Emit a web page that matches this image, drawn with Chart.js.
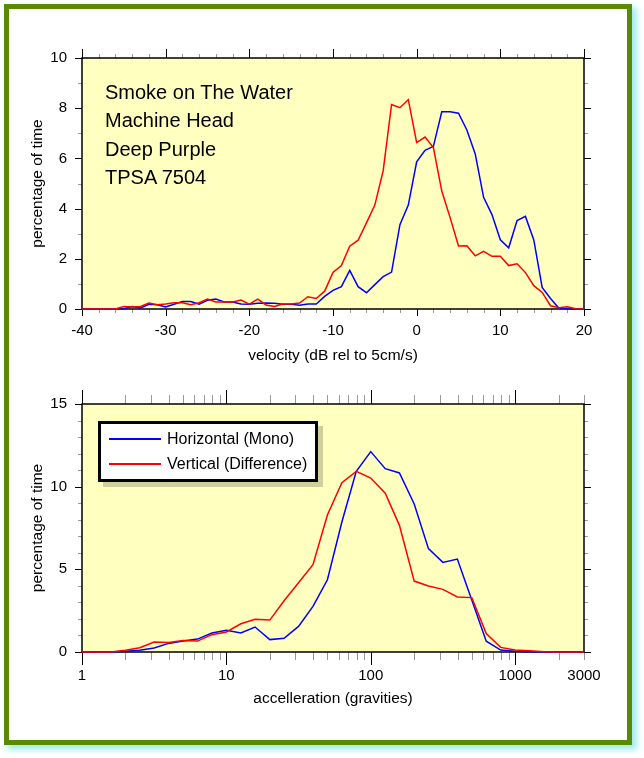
<!DOCTYPE html>
<html>
<head>
<meta charset="utf-8">
<script src="https://cdn.jsdelivr.net/npm/chart.js@4.4.1/dist/chart.umd.min.js"></script>
<style>
  html,body{margin:0;padding:0;background:#fff;}
  body{width:644px;height:758px;position:relative;overflow:hidden;font-family:'Liberation Sans',Arial,Helvetica,sans-serif;}
  #frame{position:absolute;left:4px;top:4px;width:628px;height:741px;box-sizing:border-box;border:5px solid #5a8a00;background:#fff;box-shadow:4px 4px 6px 1px #a6ecec;}
  canvas{position:absolute;left:0;}
  #c1{top:0;}
  #c2{top:380px;}
  #note{position:absolute;left:105px;top:78px;font-size:20px;line-height:28.3px;color:#000;white-space:nowrap;}
  #legend{position:absolute;left:98px;top:421px;width:220px;height:61px;box-sizing:border-box;border:3px solid #000;background:#fff;box-shadow:5px 5px 0 #cfcf9c;}
  .li{position:absolute;left:0;height:20px;width:100%;}
  .li .sw{position:absolute;left:8px;width:52px;height:2px;top:9px;}
  .li .tx{position:absolute;left:66px;top:0;font-size:16px;line-height:20px;white-space:nowrap;color:#000;}
</style>
</head>
<body>
<div id="frame"></div>
<canvas id="c1" width="644" height="372"></canvas>
<canvas id="c2" width="644" height="378"></canvas>
<div id="note"></div>
<div id="legend"></div>
<script>
// ---------- data ----------
const seriesNames = ['Horizontal (Mono)', 'Vertical (Difference)'];
const seriesColors = ['#0000ff', '#ff0000'];
const noteLines = ['Smoke on The Water', 'Machine Head', 'Deep Purple', 'TPSA 7504'];

const velocityBins = [-40,-39,-38,-37,-36,-35,-34,-33,-32,-31,-30,-29,-28,-27,-26,-25,-24,-23,-22,-21,
  -20,-19,-18,-17,-16,-15,-14,-13,-12,-11,-10,-9,-8,-7,-6,-5,-4,-3,-2,-1,
  0,1,2,3,4,5,6,7,8,9,10,11,12,13,14,15,16,17,18,19,20];
const velocityHorizontal = [0,0,0,0,0,0.01,0.1,0.04,0.19,0.17,0.08,0.19,0.3,0.3,0.19,0.35,0.4,0.28,0.28,0.2,
  0.19,0.23,0.24,0.23,0.19,0.19,0.15,0.2,0.2,0.5,0.74,0.89,1.54,0.89,0.65,0.97,1.29,1.47,3.36,4.14,
  5.86,6.32,6.48,7.86,7.86,7.8,7.13,6.18,4.45,3.76,2.76,2.44,3.52,3.69,2.75,0.86,0.42,0.03,0.01,0,0];
const velocityVertical = [0,0,0,0,0,0.1,0.08,0.1,0.24,0.17,0.2,0.25,0.25,0.17,0.25,0.4,0.28,0.28,0.28,0.36,
  0.19,0.39,0.16,0.1,0.2,0.2,0.24,0.49,0.42,0.71,1.46,1.73,2.5,2.74,3.43,4.14,5.51,8.15,8.02,8.34,
  6.63,6.85,6.43,4.7,3.64,2.51,2.52,2.12,2.3,2.1,2.1,1.73,1.8,1.45,0.93,0.66,0.13,0.05,0.09,0.01,0];

const accelBins = [1,1.26,1.58,2,2.51,3.16,3.98,5.01,6.31,7.94,10,12.6,15.8,20,25.1,31.6,39.8,50.1,63.1,79.4,
  100,126,158,200,251,316,398,501,631,794,1000,1259,1585,1995,2512,3162];
const accelHorizontal = [0,0,0,0.04,0.1,0.24,0.52,0.67,0.78,1.15,1.31,1.15,1.51,0.75,0.83,1.55,2.76,4.37,7.86,10.93,
  12.12,11.09,10.83,8.95,6.25,5.42,5.62,3.15,0.65,0.12,0.04,0.02,0,0,0,0];
const accelVertical = [0,0,0,0.1,0.26,0.6,0.58,0.69,0.66,1.05,1.21,1.71,1.98,1.93,3.1,4.19,5.28,8.29,10.24,10.93,
  10.52,9.6,7.66,4.29,3.99,3.79,3.33,3.29,1.11,0.28,0.12,0.08,0.02,0,0,0];

const velocityTickLabels = [-40,-30,-20,-10,0,10,20];
const pctTickLabels1 = [0,2,4,6,8,10];
const accelTickLabels = [1,10,100,1000,3000];
const pctTickLabels2 = [0,5,10,15];

const xTitle1 = 'velocity (dB rel to 5cm/s)';
const xTitle2 = 'accelleration (gravities)';
const yTitle = 'percentage of time';

// ---------- html text ----------
document.getElementById('note').innerHTML = noteLines.map(s => '<div>' + s + '</div>').join('');
document.getElementById('legend').innerHTML = seriesNames.map((n, i) =>
  '<div class="li" style="top:' + (i === 0 ? 5 : 30) + 'px"><div class="sw" style="background:' + seriesColors[i] + '"></div><div class="tx">' + n + '</div></div>').join('');

// ---------- chart helpers ----------
Chart.defaults.font.family = "'Liberation Sans', Arial, Helvetica, sans-serif";
Chart.defaults.font.size = 15;
Chart.defaults.color = '#000';

const frameTicks = {
  id: 'frameTicks',
  beforeDraw(chart) {
    const a = chart.chartArea, c = chart.ctx;
    c.save();
    c.fillStyle = '#ffffc0';
    c.fillRect(a.left, a.top, a.right - a.left, a.bottom - a.top);
    c.restore();
  },
  beforeDatasetsDraw(chart) {
    const spec = chart.options.plugins.frameTicks;
    if (!spec) return;
    const c = chart.ctx, a = chart.chartArea, xs = chart.scales.x, ys = chart.scales.y;
    const seg = (x1, y1, x2, y2) => { c.beginPath(); c.moveTo(x1, y1); c.lineTo(x2, y2); c.stroke(); };
    c.save();
    c.lineWidth = 1;
    spec.xTicks.forEach(t => {
      const p = Math.round(xs.getPixelForValue(t.v)) + 0.5;
      c.strokeStyle = t.major ? '#000' : '#999';
      const lt = t.major ? spec.xMajorTop : spec.xMinorTop;
      const lb = t.major ? spec.xMajorBot : spec.xMinorBot;
      seg(p, a.top, p, a.top - lt);
      seg(p, a.bottom, p, a.bottom + lb);
    });
    spec.yTicks.forEach(t => {
      const p = Math.round(ys.getPixelForValue(t.v)) + 0.5;
      c.strokeStyle = t.major ? '#000' : '#999';
      const l = t.major ? spec.yMajor : spec.yMinor;
      seg(a.left, p, a.left - l, p);
      seg(a.right, p, a.right + l, p);
    });
    c.strokeStyle = '#000';
    c.lineWidth = 1.5;
    c.strokeRect(a.left, a.top, a.right - a.left, a.bottom - a.top);
    c.restore();
  }
};

function ds(label, xs, ys, color, order) {
  return {
    label: label,
    data: xs.map((x, i) => ({x: x, y: ys[i]})),
    borderColor: color,
    backgroundColor: color,
    borderWidth: 1.5,
    pointRadius: 0,
    tension: 0,
    fill: false,
    order: order,
    clip: {left: 0, right: 0, top: 4, bottom: 4}
  };
}

function fixedTicks(arr) {
  return scale => { scale.ticks = arr.map(v => ({value: v})); };
}

// tick marks specs
const t1x = []; for (let v = -40; v <= 20; v += 2) t1x.push({v: v, major: v % 10 === 0});
const t1y = []; for (let v = 0; v <= 10; v += 1) t1y.push({v: v, major: v % 2 === 0});
const t2x = []; [1, 10, 100, 1000].forEach(d => { for (let k = 1; k <= 9; k++) { if (k * d <= 3000) t2x.push({v: k * d, major: k === 1}); } });
const t2y = []; for (let v = 0; v <= 15; v += 1) t2y.push({v: v, major: v % 5 === 0});

new Chart(document.getElementById('c1'), {
  type: 'line',
  data: { datasets: [
    ds(seriesNames[0], velocityBins, velocityHorizontal, seriesColors[0], 1),
    ds(seriesNames[1], velocityBins, velocityVertical, seriesColors[1], 0)
  ]},
  options: {
    responsive: false, animation: false, devicePixelRatio: 1,
    layout: { padding: { left: 0, right: 60, top: 58, bottom: 3 } },
    plugins: {
      legend: { display: false }, tooltip: { enabled: false },
      frameTicks: { xTicks: t1x, yTicks: t1y, xMajorTop: 9, xMinorTop: 4, xMajorBot: 7, xMinorBot: 4, yMajor: 7, yMinor: 4 }
    },
    scales: {
      x: {
        type: 'linear', min: -40, max: 20,
        afterBuildTicks: fixedTicks(velocityTickLabels),
        afterFit: s => { s.height = 60; },
        grid: { display: false, drawTicks: false }, border: { display: false },
        ticks: { padding: 13, maxRotation: 0, autoSkip: false, font: { size: 15 }, callback: v => String(v) },
        title: { display: true, text: xTitle1, font: { size: 15.5 }, padding: { top: 0, bottom: 3.5 } }
      },
      y: {
        type: 'linear', min: 0, max: 10,
        afterBuildTicks: fixedTicks(pctTickLabels1),
        afterFit: s => { s.width = 82; },
        grid: { display: false, drawTicks: false }, border: { display: false },
        ticks: { padding: 15, font: { size: 15 }, callback: v => String(v) },
        title: { display: true, text: yTitle, font: { size: 15.5 }, padding: { top: 28.7, bottom: 0 } }
      }
    }
  },
  plugins: [frameTicks]
});

new Chart(document.getElementById('c2'), {
  type: 'line',
  data: { datasets: [
    ds(seriesNames[0], accelBins, accelHorizontal, seriesColors[0], 1),
    ds(seriesNames[1], accelBins, accelVertical, seriesColors[1], 0)
  ]},
  options: {
    responsive: false, animation: false, devicePixelRatio: 1,
    layout: { padding: { left: 0, right: 60, top: 20, bottom: 46 } },
    plugins: {
      legend: { display: false }, tooltip: { enabled: false },
      frameTicks: { xTicks: t2x, yTicks: t2y, xMajorTop: 14, xMinorTop: 9, xMajorBot: 13, xMinorBot: 8, yMajor: 7, yMinor: 4 }
    },
    scales: {
      x: {
        type: 'logarithmic', min: 1, max: 3000,
        afterBuildTicks: fixedTicks(accelTickLabels),
        afterFit: s => { s.height = 60; },
        grid: { display: false, drawTicks: false }, border: { display: false },
        ticks: { padding: 15, maxRotation: 0, autoSkip: false, font: { size: 15 }, callback: v => String(v) },
        title: { display: true, text: xTitle2, font: { size: 15.5 }, padding: { top: 0, bottom: 4 } }
      },
      y: {
        type: 'linear', min: 0, max: 15,
        afterBuildTicks: fixedTicks(pctTickLabels2),
        afterFit: s => { s.width = 82; },
        grid: { display: false, drawTicks: false }, border: { display: false },
        ticks: { padding: 15, font: { size: 15 }, callback: v => String(v) },
        title: { display: true, text: yTitle, font: { size: 15.5 }, padding: { top: 28.7, bottom: 0 } }
      }
    }
  },
  plugins: [frameTicks]
});
</script>
</body>
</html>
